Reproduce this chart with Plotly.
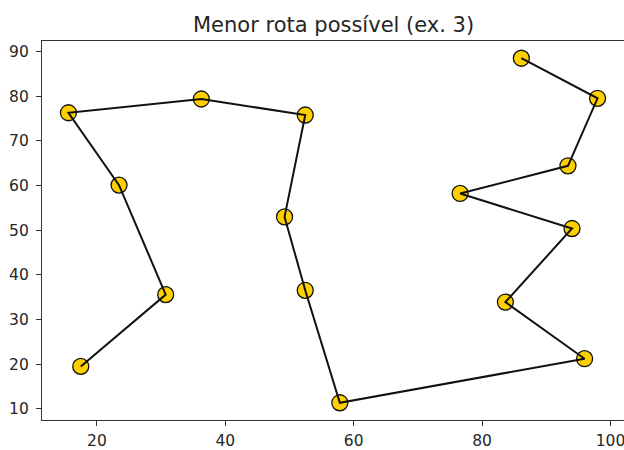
import plotly.graph_objects as go

# Cities visited, in route order
route_x = [86.12, 97.99, 93.38, 76.58, 94.01, 83.63, 95.97, 57.84,
           52.45, 49.23, 52.45, 36.26, 15.56, 23.44, 30.71, 17.48]
route_y = [88.52, 79.55, 64.43, 58.23, 50.38, 33.91, 21.22, 11.35,
           36.54, 52.98, 75.80, 79.39, 76.31, 60.10, 35.58, 19.49]

x_ticks = [20, 40, 60, 80, 100]
y_ticks = [10, 20, 30, 40, 50, 60, 70, 80, 90]

title_text = "Menor rota possível (ex. 3)"

font_family = "DejaVu Sans"
axis_color = "#333333"

fig = go.Figure()

# city markers
fig.add_trace(go.Scatter(
    x=route_x, y=route_y, mode="markers",
    marker=dict(size=16, color="#FFD000",
                line=dict(color="#111111", width=1.3)),
    hoverinfo="skip", showlegend=False,
))

# path between cities, drawn over the markers
fig.add_trace(go.Scatter(
    x=route_x, y=route_y, mode="lines",
    line=dict(color="#111111", width=2),
    hoverinfo="skip", showlegend=False,
))

fig.update_layout(
    width=624, height=450,
    margin=dict(l=42, r=0, t=41, b=30),
    paper_bgcolor="white", plot_bgcolor="white",
    font=dict(family=font_family, size=15.5, color="#262626"),
    showlegend=False,
    annotations=[dict(
        text=title_text, xref="paper", yref="paper",
        x=0.5, y=1, xanchor="center", yanchor="bottom",
        yshift=2, showarrow=False,
        font=dict(family=font_family, size=21, color="#262626"),
    )],
)

fig.update_xaxes(
    range=[11.44, 102.11], tickvals=x_ticks,
    ticktext=[str(v) for v in x_ticks],
    showgrid=False, zeroline=False,
    showline=True, linecolor=axis_color, linewidth=1.2, mirror=True,
    ticks="outside", ticklen=5, tickwidth=1, tickcolor=axis_color,
    ticklabelstandoff=1, ticklabeloverflow="allow",
)
fig.update_yaxes(
    range=[7.49, 92.38], tickvals=y_ticks,
    ticktext=[str(v) for v in y_ticks],
    showgrid=False, zeroline=False,
    showline=True, linecolor=axis_color, linewidth=1.2, mirror=False,
    ticks="outside", ticklen=5, tickwidth=1, tickcolor=axis_color,
    ticklabelstandoff=4,
)

fig.write_html("out.html")
